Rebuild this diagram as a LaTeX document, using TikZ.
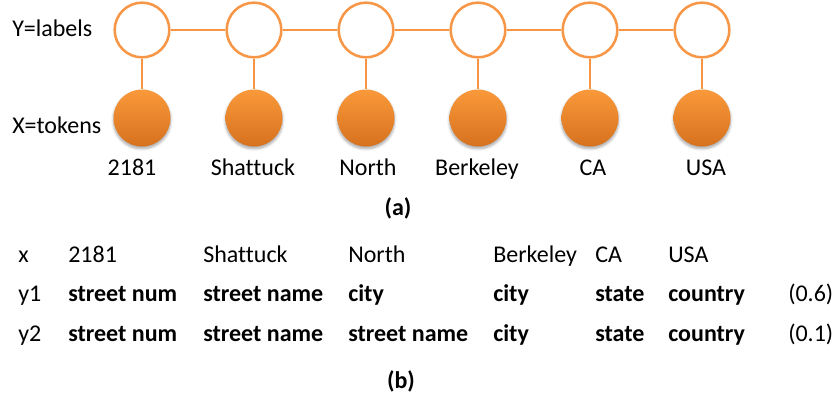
\documentclass[tikz,border=0pt]{standalone}
\usepackage{fontspec}
\setmainfont{Carlito}[Ligatures={NoCommon}]
\usetikzlibrary{shadows.blur}
\definecolor{linkorange}{HTML}{F79646}
\definecolor{tokentop}{HTML}{FA993A}
\definecolor{tokenmid}{HTML}{F08A2A}
\definecolor{tokenbottom}{HTML}{D6711E}
\tikzset{
  label/.style={circle, draw=linkorange, line width=1.9pt, fill=white,
    minimum size=41pt, inner sep=0pt},
  token/.style={circle, top color=tokentop, middle color=tokenmid, bottom color=tokenbottom,
    draw=none, minimum size=42.75pt, inner sep=0pt,
    blur shadow={shadow xshift=0pt, shadow yshift=-1.6pt, shadow opacity=35,
      shadow blur steps=6, shadow blur extra rounding=1pt}},
  link/.style={draw=linkorange, line width=1.9pt},
  txt/.style={inner sep=0pt, font=\fontsize{18}{21.6}\selectfont},
  plain/.style={txt, anchor=base west},
  strong/.style={txt, anchor=base west, font=\fontsize{18}{21.6}\selectfont\bfseries},
}
\begin{document}
\begin{tikzpicture}[x=0.75pt, y=-0.75pt]
\useasboundingbox (0,0) rectangle (833,400);

% chain of label variables and the observed tokens below them
\foreach \i/\cx/\tx/\word in {1/142/132/2181, 2/254/253/Shattuck, 3/366/368/North,
                              4/478/477/Berkeley, 5/590/593/CA, 6/702/706/USA} {
  \node[label] (y\i) at (\cx,30) {};
  \node[token] (x\i) at (\cx,118) {};
  \node[txt, anchor=base] (w\i) at (\tx,175) {\word};
}
\foreach \i in {1,...,6} { \draw[link] (y\i) -- (x\i); }
\foreach \i/\j in {1/2,2/3,3/4,4/5,5/6} { \draw[link] (y\i) -- (y\j); }

\node[plain] (ylab) at (12,36) {Y=labels};
\node[plain] (xlab) at (12,133) {X=tokens};
\node[txt, anchor=base, font=\fontsize{18}{21.6}\selectfont\bfseries] (capa) at (398,215) {(a)};

% two candidate labelings with their scores
\node[plain] (r0) at (18,262) {x};
\node[plain] (r0a) at (68,262) {2181};
\node[plain] (r0b) at (203,262) {Shattuck};
\node[plain] (r0c) at (348,262) {North};
\node[plain] (r0d) at (493,262) {Berkeley};
\node[plain] (r0e) at (595,262) {CA};
\node[plain] (r0f) at (668,262) {USA};

\node[plain] (r1) at (18,301) {y1};
\node[strong] (r1a) at (68,301) {street num};
\node[strong] (r1b) at (203,301) {street name};
\node[strong] (r1c) at (348,301) {city};
\node[strong] (r1d) at (493,301) {city};
\node[strong] (r1e) at (595,301) {state};
\node[strong] (r1f) at (668,301) {country};
\node[plain] (r1p) at (788,301) {(0.6)};

\node[plain] (r2) at (18,341) {y2};
\node[strong] (r2a) at (68,341) {street num};
\node[strong] (r2b) at (203,341) {street name};
\node[strong] (r2c) at (348,341) {street name};
\node[strong] (r2d) at (493,341) {city};
\node[strong] (r2e) at (595,341) {state};
\node[strong] (r2f) at (668,341) {country};
\node[plain] (r2p) at (788,341) {(0.1)};

\node[txt, anchor=base, font=\fontsize{18}{21.6}\selectfont\bfseries] (capb) at (401,388) {(b)};
\end{tikzpicture}
\end{document}
